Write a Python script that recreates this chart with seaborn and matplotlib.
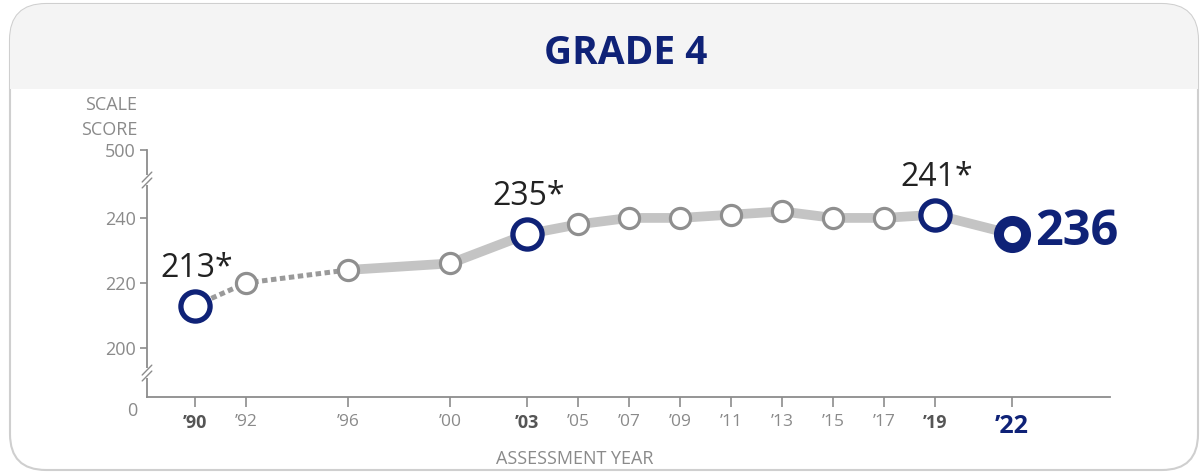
import matplotlib
matplotlib.use("Agg")
import matplotlib.pyplot as plt
import seaborn as sns
import pandas as pd
from matplotlib.patches import FancyBboxPatch, Rectangle
from matplotlib.transforms import IdentityTransform

# ---- data ----
years = [1990, 1992, 1996, 2000, 2003, 2005, 2007, 2009, 2011, 2013, 2015, 2017, 2019, 2022]
scores = [213, 220, 224, 226, 235, 238, 240, 240, 241, 242, 240, 240, 241, 235]
tick_labels = ["\u201990", "\u201992", "\u201996", "\u201900", "\u201903", "\u201905", "\u201907",
               "\u201909", "\u201911", "\u201913", "\u201915", "\u201917", "\u201919", "\u201922"]
highlight_years = [1990, 2003, 2019]
highlight_labels = ["213*", "235*", "241*"]
current_year = 2022
current_label = "236"
dotted_until = 1996
yticks = [200, 220, 240]

NAVY = "#0f2277"
GRAY_TXT = "#8a8a8a"

sns.set_theme(style="white")
plt.rcParams["font.family"] = ["Open Sans", "DejaVu Sans"]

df = pd.DataFrame({"year": years, "score": scores})
df_dot = df[df.year <= dotted_until]
df_sol = df[df.year >= dotted_until]
df_hi = df[df.year.isin(highlight_years)]
df_cur = df[df.year == current_year]
df_reg = df[~df.year.isin(highlight_years + [current_year])]

W, H = 1204, 474
fig = plt.figure(figsize=(W / 100, H / 100), dpi=100)
fig.patch.set_facecolor("white")

# card frame and header band (pixel coordinates)
card = FancyBboxPatch((10, 4), 1198 - 10, 470 - 4,
                      boxstyle="round,pad=0,rounding_size=36",
                      transform=IdentityTransform(), facecolor="white",
                      edgecolor="#cfcfcf", linewidth=1.5, zorder=-2)
fig.patches.append(card)
header = Rectangle((0, H - 89), W, 89, transform=IdentityTransform(),
                   facecolor="#f4f4f4", edgecolor="none", zorder=-1)
header.set_clip_path(card)
fig.patches.append(header)
fig.text(626 / W, 1 - 53 / H, "GRADE 4", ha="center", va="center",
         fontsize=28, fontweight="bold", color=NAVY)

ax = fig.add_axes([147 / W, 77 / H, (1110 - 147) / W, (397 - 150) / H])
ax.set_facecolor("none")

sns.lineplot(data=df_sol, x="year", y="score", ax=ax, color="#c4c4c4",
             linewidth=7, solid_capstyle="butt", zorder=1)
sns.lineplot(data=df_dot, x="year", y="score", ax=ax, color="#9a9a9a",
             linewidth=3.6, zorder=1.1)
ax.lines[-1].set_dashes([1.1, 0.7])

sns.scatterplot(data=df_reg, x="year", y="score", ax=ax, s=14.5 ** 2,
                color="white", edgecolor="#8f8f8f", linewidth=2.3, zorder=3)
sns.scatterplot(data=df_hi, x="year", y="score", ax=ax, s=21 ** 2,
                color="white", edgecolor=NAVY, linewidth=3.8, zorder=4)
sns.scatterplot(data=df_cur, x="year", y="score", ax=ax, s=19.5 ** 2,
                color="white", edgecolor=NAVY, linewidth=7.2, zorder=4)

for yr, lab in zip(highlight_years, highlight_labels):
    sc = df.loc[df.year == yr, "score"].iloc[0]
    ax.annotate(lab, (yr, sc), xytext=(1, 27), textcoords="offset points",
                ha="center", va="center", fontsize=23, color="#222222")
ax.annotate(current_label, (current_year, df_cur.score.iloc[0]), xytext=(17, 1),
            textcoords="offset points", ha="left", va="center",
            fontsize=35, fontweight="bold", color=NAVY)

ax.set_xlim(1988.12, 2025.84)
ylo, yhi = 184.9, 260.9
ax.set_ylim(ylo, yhi)

# axes styling
for s in ["top", "right"]:
    ax.spines[s].set_visible(False)
for s in ["left", "bottom"]:
    ax.spines[s].set_color("#8c8c8c")
    ax.spines[s].set_linewidth(1.3)

ax.set_xticks(years)
ax.set_xticklabels(tick_labels)
ax.tick_params(axis="x", direction="out", length=7, width=1.2, color="#8c8c8c",
               labelsize=12.5, labelcolor=GRAY_TXT, pad=5, bottom=True)
for lab, yr in zip(ax.get_xticklabels(), years):
    if yr in highlight_years:
        lab.set_fontweight("bold")
        lab.set_color("#555555")
        lab.set_fontsize(13)
    elif yr == current_year:
        lab.set_fontweight("bold")
        lab.set_color(NAVY)
        lab.set_fontsize(18)

ax.set_yticks(yticks + [yhi])
ax.set_yticklabels([str(v) for v in yticks] + ["500"])
ax.tick_params(axis="y", direction="out", length=5, width=1.2, color="#8c8c8c",
               labelsize=13, labelcolor=GRAY_TXT, pad=3, left=True)
ax.set_xlabel("")
ax.set_ylabel("")
ax.grid(False)

# axis break marks
for yf in [0.097, 0.8785]:
    ax.plot([0, 0], [yf - 0.02, yf + 0.02], transform=ax.transAxes, color="white",
            linewidth=3, clip_on=False, zorder=5, solid_capstyle="butt")
    for d in [-0.012, 0.012]:
        ax.plot([-0.005, 0.005], [yf + d - 0.02, yf + d + 0.02], transform=ax.transAxes,
                color="#8c8c8c", linewidth=1.0, clip_on=False, zorder=6)

fig.text(132 / W, 1 - 411 / H, "0", ha="center", va="center", fontsize=13, color=GRAY_TXT)
fig.text(137 / W, 1 - 105 / H, "SCALE", ha="right", va="center", fontsize=13, color=GRAY_TXT)
fig.text(137 / W, 1 - 130 / H, "SCORE", ha="right", va="center", fontsize=13, color=GRAY_TXT)
fig.text(575 / W, 1 - 459 / H, "ASSESSMENT YEAR", ha="center", va="center",
         fontsize=13, color=GRAY_TXT)

fig.savefig("out.png", dpi=100)
